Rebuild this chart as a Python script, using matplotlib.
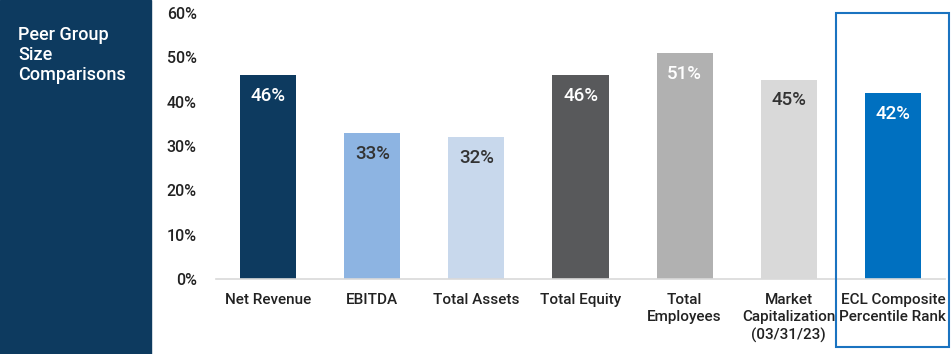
import matplotlib.pyplot as plt
from matplotlib.patches import Rectangle

plt.rcParams['font.family'] = ['Roboto', 'DejaVu Sans']
plt.rcParams['font.weight'] = 'medium'

categories = ['Net Revenue', 'EBITDA', 'Total Assets', 'Total Equity',
              'Total\nEmployees', 'Market\nCapitalization\n(03/31/23)',
              'ECL Composite\nPercentile Rank']
values = [46, 33, 32, 46, 51, 45, 42]
bar_colors = ['#0d3a5f', '#8db4e2', '#c8d8ec', '#58595b', '#b1b1b1', '#d9d9d9', '#0070c0']
label_colors = ['white', '#333333', '#333333', 'white', 'white', '#333333', 'white']
yticks = [0, 10, 20, 30, 40, 50, 60]

fig = plt.figure(figsize=(9.51, 3.54), dpi=100)

# dark side panel with title
fig.patches.append(Rectangle((0, 0), 151 / 951, 1, transform=fig.transFigure,
                             color='#0d3a5f', zorder=0))
fig.text(18 / 951, 1 - 26 / 354, 'Peer Group\nSize\nComparisons', color='white',
         fontsize=13, va='top', ha='left', linespacing=1.15)

ax = fig.add_axes([216 / 951, 75 / 354, 729 / 951, 266 / 354])
x = range(len(values))
bars = ax.bar(x, values, width=0.54, color=bar_colors, zorder=2)
for xi, v, c in zip(x, values, label_colors):
    ax.text(xi, v - 4.7, f'{v}%', ha='center', va='center', color=c, fontsize=13.5)

ax.set_xlim(-0.5, len(values) - 0.5)
ax.set_ylim(0, 60)
ax.set_yticks(yticks)
ax.set_yticklabels([f'{t}%' for t in yticks], fontsize=11.5, color='#222222')
ax.set_xticks(list(x))
ax.set_xticklabels(categories, fontsize=11, color='#222222', va='top', linespacing=1.3)
ax.tick_params(length=0, axis='y', pad=14)
ax.tick_params(length=0, axis='x', pad=10)
for s in ['top', 'right', 'left']:
    ax.spines[s].set_visible(False)
ax.spines['bottom'].set_color('#d9d9d9')
ax.spines['bottom'].set_linewidth(1.2)

# highlight box around last category
fig.patches.append(Rectangle((836 / 951, 7 / 354), 113 / 951, 334 / 354,
                             transform=fig.transFigure, fill=False,
                             edgecolor='#1a73c0', linewidth=1.5, zorder=3))

fig.savefig('out.png', dpi=100)
